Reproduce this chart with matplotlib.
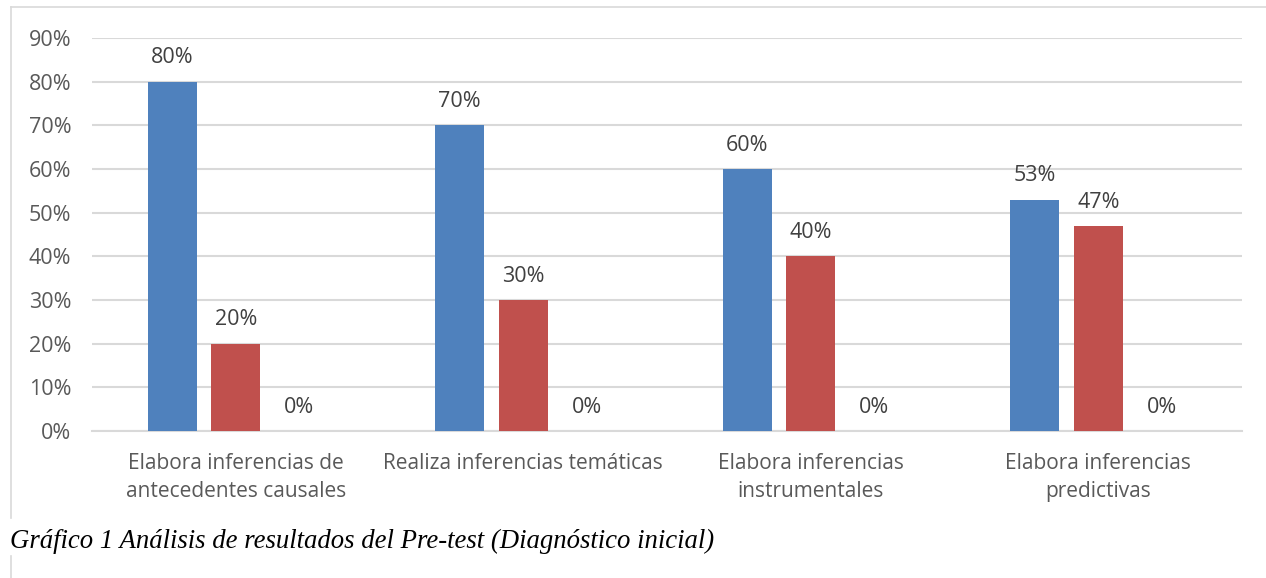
import numpy as np
import matplotlib
matplotlib.use("Agg")
import matplotlib.pyplot as plt
from matplotlib.lines import Line2D

categories = ["Elabora inferencias de\nantecedentes causales",
              "Realiza inferencias temáticas",
              "Elabora inferencias\ninstrumentales",
              "Elabora inferencias\npredictivas"]
serie1 = [0.80, 0.70, 0.60, 0.53]
serie2 = [0.20, 0.30, 0.40, 0.47]
serie3 = [0.0, 0.0, 0.0, 0.0]
yticks = [0, 0.1, 0.2, 0.3, 0.4, 0.5, 0.6, 0.7, 0.8, 0.9]

colors = ["#4F81BD", "#C0504D", "#9BBB59"]
txt = "#595959"
plt.rcParams["font.family"] = ["Open Sans", "DejaVu Sans"]

fig = plt.figure(figsize=(12.66, 5.78), dpi=100)
ax = fig.add_axes([92/1266, (578-431)/578, 1150/1266, 393/578])

x = np.arange(len(categories))
w = 0.17
step = 0.221
for i, (vals, c) in enumerate(zip([serie1, serie2, serie3], colors)):
    pos = x + (i - 1) * step
    ax.bar(pos, vals, width=w, color=c, zorder=3)
    for p, v in zip(pos, vals):
        ax.annotate(f"{v*100:.0f}%", (p, v), xytext=(0, 9.5), textcoords="offset points",
                    ha="center", va="bottom", fontsize=15.5, color="#404040")

ax.set_xlim(-0.5, 3.5)
ax.set_ylim(0, 0.9)
ax.set_yticks(yticks)
ax.set_yticklabels([f"{t*100:.0f}%" for t in yticks])
ax.set_xticks(x)
ax.set_xticklabels(categories, linespacing=1.45)
ax.tick_params(axis="y", length=0, pad=15, labelsize=15.5, labelcolor=txt)
ax.tick_params(axis="x", length=0, pad=16, labelsize=15, labelcolor=txt)
ax.yaxis.grid(True, color="#D9D9D9", linewidth=1.5, zorder=0)
for s in ["top", "right", "left"]:
    ax.spines[s].set_visible(False)
ax.spines["bottom"].set_color("#D9D9D9")
ax.spines["bottom"].set_linewidth(1.5)

# chart border (top and left edges visible)
fig.add_artist(Line2D([11/1266, 1], [1 - 7/578, 1 - 7/578], color="#D9D9D9", lw=1.2))
fig.add_artist(Line2D([11/1266, 11/1266], [1 - 7/578, 1 - 518/578], color="#D9D9D9", lw=1.2))
fig.add_artist(Line2D([11/1266, 11/1266], [1 - 556/578, 0], color="#D9D9D9", lw=1.2))

fig.text(10/1266, 1 - 541/578, "Gráfico 1 Análisis de resultados del Pre-test (Diagnóstico inicial)",
         family="Liberation Serif", style="italic", fontsize=19.3, color="black",
         ha="left", va="center")

fig.savefig("out.png", dpi=100)
